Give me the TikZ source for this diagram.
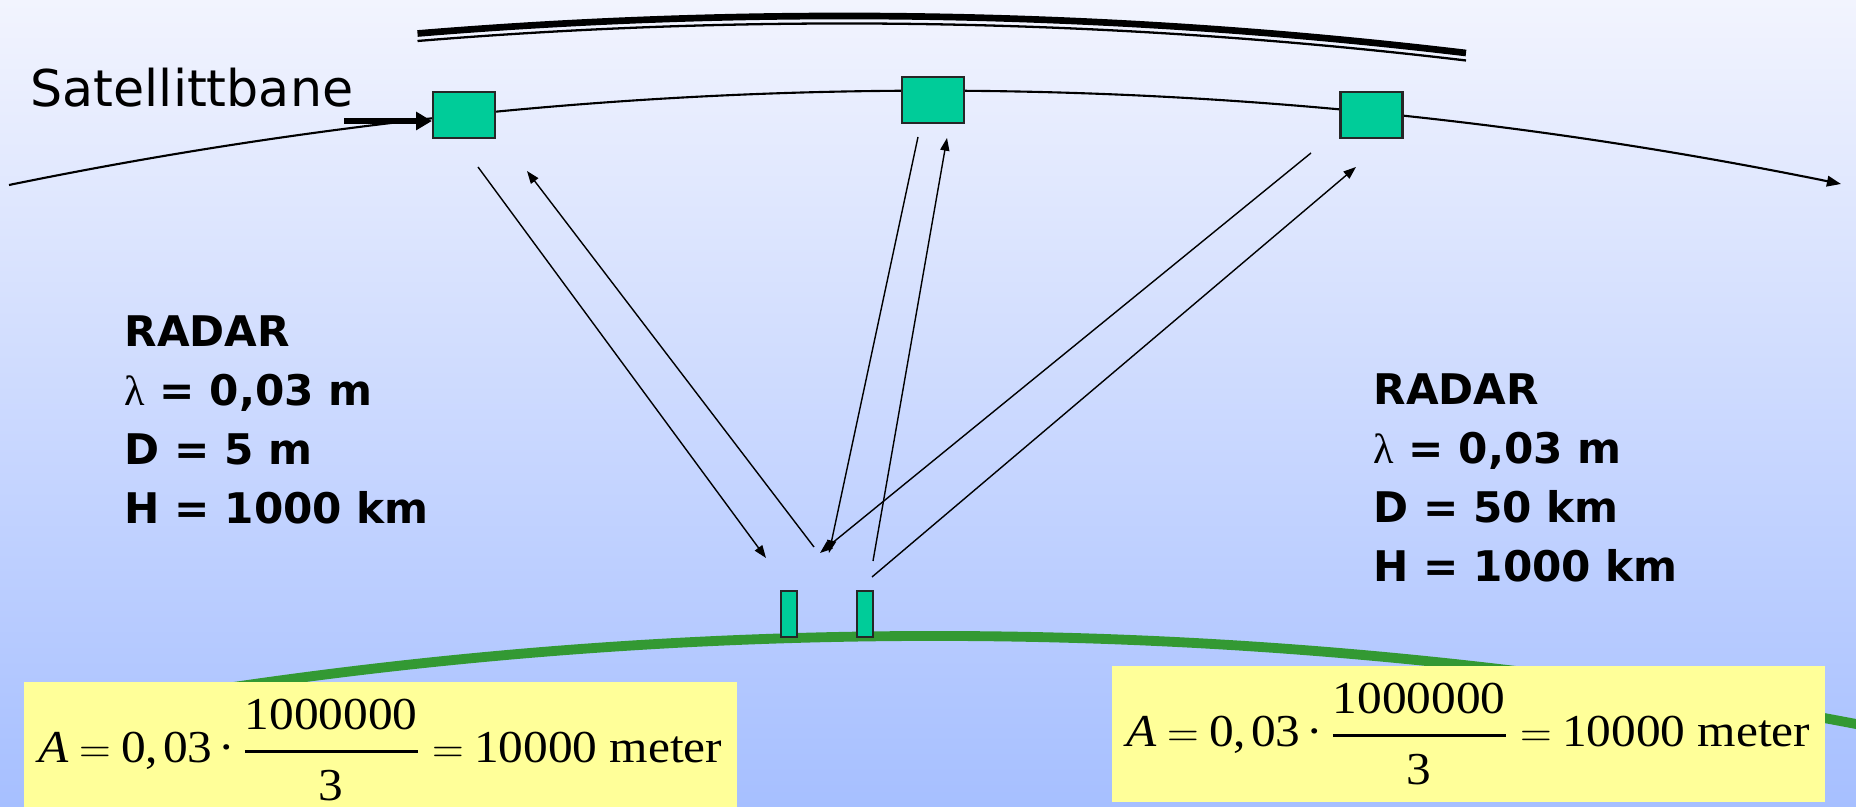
\documentclass[tikz,border=0pt]{standalone}
\usepackage{fontspec}
\usepackage{amsmath}
\usetikzlibrary{arrows.meta}
\setmainfont{DejaVu Sans}
\newfontfamily\tnr[FakeStretch=1.08]{Liberation Serif}
\newfontfamily\symf{Liberation Serif}
\definecolor{bgtop}{RGB}{242,244,254}
\definecolor{bgbot}{RGB}{166,191,255}
\definecolor{satgreen}{RGB}{0,204,153}
\definecolor{earthgreen}{RGB}{51,153,51}
\definecolor{notepad}{RGB}{255,255,153}
\tikzset{
  sat/.style={draw=black!85,line width=0.6pt,fill=satgreen,inner sep=0pt,
    minimum width=0.62cm,minimum height=0.46cm},
  antenna/.style={draw=black!85,line width=0.6pt,fill=satgreen,inner sep=0pt,
    minimum width=0.16cm,minimum height=0.46cm},
  beam/.style={line width=0.4pt,-{Triangle[length=3.6pt,width=2.6pt]}},
  specs/.style={align=left,inner sep=0pt,anchor=north west,
    font=\bfseries\fontsize{12}{16.8}\selectfont},
  formula/.style={fill=notepad,inner sep=0pt,minimum width=7.12cm,
    minimum height=1.36cm,font=\tnr\fontsize{13}{16}\selectfont}
}
\newcommand{\lam}{{\symf\mdseries λ}}
\newcommand{\arange}{$\thickmuskip=4.3mu\medmuskip=2.5mu
  \text{\itshape A}=\text{0,\kern1.4pt 03}\mathbin{\text{·}}
  \genfrac{}{}{0.9pt}{0}{\text{1000000}\rule[-3.3pt]{0pt}{1pt}}{\text{\rule{0pt}{10.8pt}3}}
  =\text{10000 meter}$}
\begin{document}
\begin{tikzpicture}[x=0.01cm,y=-0.01cm]
  \useasboundingbox (0,0) rectangle (1856,807);
  \shade[top color=bgtop,bottom color=bgbot] (0,0) rectangle (1856,807);
  % jordoverflaten
  \draw[earthgreen,line width=2.8pt] (200,692) .. controls (756.7,607.1) and (1313.3,618.7) .. (1870,726.7);
  % ytre grense
  \draw[line width=1.9pt] (417.5,33.5) .. controls (767,4.8) and (1116.5,11.4) .. (1466,53);
  \draw[line width=0.65pt] (417.5,41) .. controls (767,12.3) and (1116.5,18.9) .. (1466,60.5);
  % bane med satellitter
  \draw[line width=0.6pt,-{Triangle[length=4pt,width=3pt]}] (9,185) .. controls (619.7,60) and (1230.3,59.7) .. (1841,184);
  \node[sat] (s1) at (464,115) {};
  \node[sat] (s2) at (933,100) {};
  \node[sat] (s3) at (1371.5,115) {};
  \node[anchor=base west,inner sep=0pt,font=\fontsize{14.4}{17}\selectfont] (bane) at (30,107) {Satellittbane};
  \coordinate (pil) at (344,121);
  \draw[line width=1.7pt,-{Triangle[length=4.5pt,width=5pt]}] (pil) -- (pil -| s1.west);
  % antenner
  \node[antenna] (r1) at (789,614) {};
  \node[antenna] (r2) at (865,614) {};
  % stråler
  \coordinate (s1ut) at (478,167);   \coordinate (r1inn) at (766,558);
  \coordinate (r1ut) at (814,547);   \coordinate (s1inn) at (527,171);
  \coordinate (s2ut) at (918,137);   \coordinate (r2inn) at (829,553);
  \coordinate (r2ut) at (873,561);   \coordinate (s2inn) at (947,138);
  \coordinate (s3ut) at (1311,153);  \coordinate (r3inn) at (820,553);
  \coordinate (r3ut) at (872,577);   \coordinate (s3inn) at (1356,167);
  \draw[beam] (s1ut) -- (r1inn);
  \draw[beam] (r1ut) -- (s1inn);
  \draw[beam] (s2ut) -- (r2inn);
  \draw[beam] (r2ut) -- (s2inn);
  \draw[beam] (s3ut) -- (r3inn);
  \draw[beam] (r3ut) -- (s3inn);
  % tekst
  \node[specs] (radar1) at (124,315) {RADAR\\\lam{} = 0,03 m\\D = 5 m\\H = 1000 km};
  \node[specs] (radar2) at (1373,373) {RADAR\\\lam{} = 0,03 m\\D = 50 km\\H = 1000 km};
  \node[formula] (f1) at (380.5,750) {\arange};
  \node[formula] (f2) at (1468.5,734) {\arange};
\end{tikzpicture}
\end{document}
